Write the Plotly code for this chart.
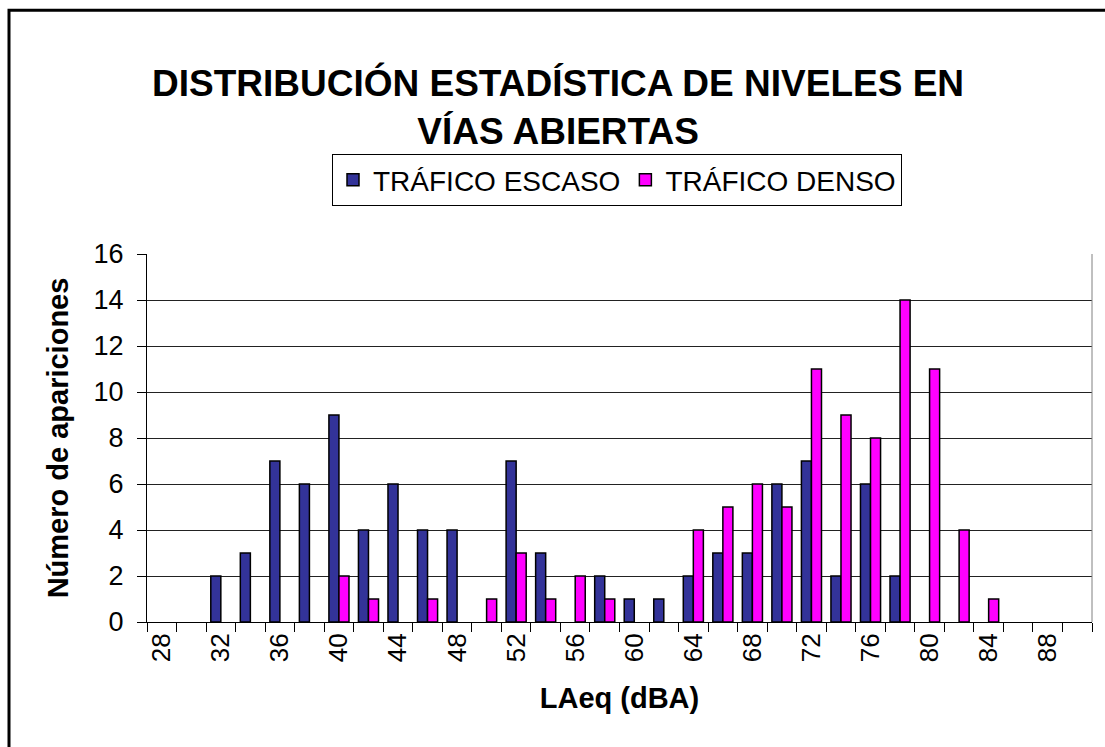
import plotly.graph_objects as go

# Data
levels = [28, 30, 32, 34, 36, 38, 40, 42, 44, 46, 48, 50, 52, 54, 56, 58,
          60, 62, 64, 66, 68, 70, 72, 74, 76, 78, 80, 82, 84, 86, 88, 90]
escaso = [0, 0, 2, 3, 7, 6, 9, 4, 6, 4, 4, 0, 7, 3, 0, 2,
          1, 1, 2, 3, 3, 6, 7, 2, 6, 2, 0, 0, 0, 0, 0, 0]
denso = [0, 0, 0, 0, 0, 0, 2, 1, 0, 1, 0, 1, 3, 1, 2, 1,
         0, 0, 4, 5, 6, 5, 11, 9, 8, 14, 11, 4, 1, 0, 0, 0]
tick_vals = [28, 32, 36, 40, 44, 48, 52, 56, 60, 64, 68, 72, 76, 80, 84, 88]
tick_text = [str(v) for v in tick_vals]
y_ticks = [0, 2, 4, 6, 8, 10, 12, 14, 16]

FONT = "Liberation Sans, Arial, sans-serif"

def nz(vals):
    return [v if v else None for v in vals]

fig = go.Figure()
fig.add_trace(go.Bar(x=levels, y=nz(escaso), name="TRÁFICO ESCASO",
                     marker=dict(color="#333399", line=dict(color="black", width=1.5))))
fig.add_trace(go.Bar(x=levels, y=nz(denso), name="TRÁFICO DENSO",
                     marker=dict(color="#FF00FF", line=dict(color="black", width=1.5))))

L, R, T, B = 147, 13, 254, 124.5
W, H = 1105, 747
pw = W - L - R
ph = H - T - B

def px2x(px):
    return (px - L) / pw

def py2y(py):
    return (H - B - py) / ph

fig.update_layout(
    width=W, height=H,
    margin=dict(l=L, r=R, t=T, b=B, autoexpand=False),
    paper_bgcolor="white", plot_bgcolor="white",
    barmode="group", bargap=0.32, bargroupgap=0.0,
    font=dict(family=FONT, color="black"),
    title=dict(text="DISTRIBUCIÓN ESTADÍSTICA DE NIVELES EN<br>VÍAS ABIERTAS",
               x=0.505, xanchor="center", y=1 - 96 / H, yanchor="top",
               font=dict(size=37, family=FONT, color="black", weight="bold")),
    legend=dict(orientation="h", x=px2x(617), xanchor="center",
                y=py2y(154), yanchor="top",
                bordercolor="black", borderwidth=1, bgcolor="white",
                font=dict(size=28, family=FONT), traceorder="normal"),
    xaxis=dict(range=[27, 91], tickmode="array", tickvals=tick_vals, ticktext=tick_text,
               tickangle=-90, ticks="", ticklen=0, showgrid=False,
               tickfont=dict(size=26, family=FONT),
               showline=True, linecolor="black", linewidth=1,
               minor=dict(ticks="outside", ticklen=9, tickcolor="black",
                          tick0=27, dtick=2, showgrid=False),
               title=dict(text="LAeq (dBA)", standoff=26,
                          font=dict(size=29, family=FONT, weight="bold"))),
    yaxis=dict(range=[0, 16], tickmode="array", tickvals=y_ticks,
               ticks="outside", ticklen=9, tickcolor="black",
               showgrid=True, gridcolor="#222222", gridwidth=1,
               showline=True, linecolor="black", linewidth=1,
               tickfont=dict(size=27, family=FONT), ticklabelstandoff=8,
               zeroline=False,
               title=dict(text="Número de apariciones", standoff=16,
                          font=dict(size=29, family=FONT, weight="bold"))),
)

# right border of plot area
fig.add_shape(type="line", xref="paper", yref="paper", x0=1, x1=1, y0=0, y1=1,
              line=dict(color="#808080", width=1))
# outer chart border
fig.add_shape(type="rect", xref="paper", yref="paper",
              x0=px2x(9), x1=px2x(1115), y0=py2y(760), y1=py2y(10),
              line=dict(color="black", width=3), layer="above")

fig.write_html("out.html", config={"displayModeBar": False},
               post_script="document.body.style.margin='0px';document.body.style.padding='0px';")
